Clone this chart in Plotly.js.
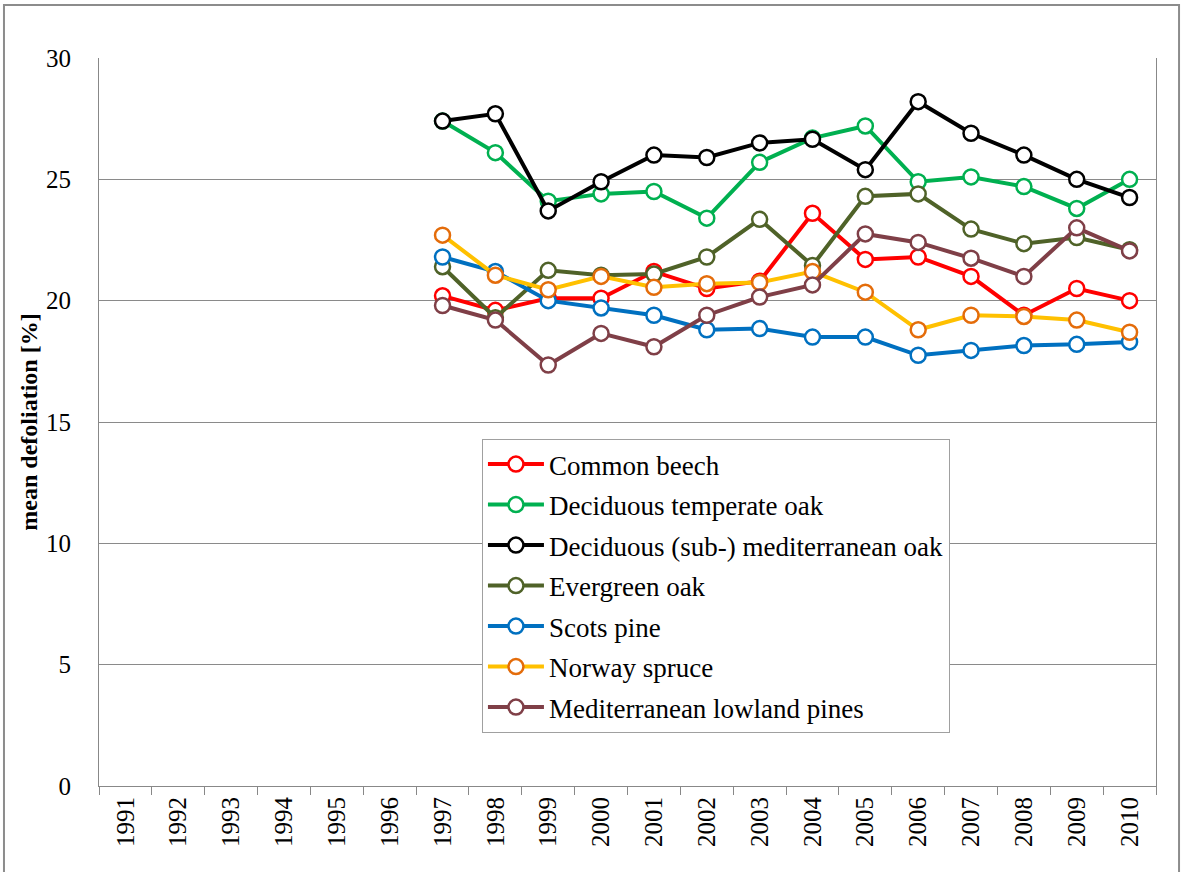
<!DOCTYPE html>
<html>
<head>
<meta charset="utf-8">
<script src="https://cdn.plot.ly/plotly-3.0.1.min.js"></script>
<style>
  html, body { margin: 0; padding: 0; background: #fff; }
  #chart { width: 1183px; height: 872px; }
</style>
</head>
<body>
<div id="chart"></div>
<script>
// years on the category axis (no data before 1997)
const years = ['1991','1992','1993','1994','1995','1996','1997','1998','1999','2000',
               '2001','2002','2003','2004','2005','2006','2007','2008','2009','2010'];
const pad = [null, null, null, null, null, null];

// mean defoliation [%], 1997-2010
const commonBeech   = [20.2, 19.6, 20.1, 20.1, 21.2, 20.5, 20.8, 23.6, 21.7, 21.8, 21.0, 19.4, 20.5, 20.0];
const decTempOak    = [27.4, 26.1, 24.1, 24.4, 24.5, 23.4, 25.7, 26.7, 27.2, 24.9, 25.1, 24.7, 23.8, 25.0];
const decSubMedOak  = [27.4, 27.7, 23.7, 24.9, 26.0, 25.9, 26.5, 26.65, 25.4, 28.2, 26.9, 26.0, 25.0, 24.25];
const evergreenOak  = [21.4, 19.3, 21.25, 21.05, 21.1, 21.8, 23.35, 21.45, 24.3, 24.4, 22.95, 22.35, 22.6, 22.1];
const scotsPine     = [21.8, 21.2, 20.0, 19.7, 19.4, 18.8, 18.85, 18.5, 18.5, 17.75, 17.95, 18.15, 18.2, 18.3];
const norwaySpruce  = [22.7, 21.05, 20.45, 21.0, 20.55, 20.7, 20.75, 21.2, 20.35, 18.8, 19.4, 19.35, 19.2, 18.7];
const medLowPines   = [19.8, 19.2, 17.35, 18.65, 18.1, 19.4, 20.15, 20.65, 22.75, 22.4, 21.75, 21.0, 23.0, 22.05];

const seriesNames = ['Common beech', 'Deciduous temperate oak', 'Deciduous (sub-) mediterranean oak',
                     'Evergreen oak', 'Scots pine', 'Norway spruce', 'Mediterranean lowland pines'];
const seriesData  = [commonBeech, decTempOak, decSubMedOak, evergreenOak, scotsPine, norwaySpruce, medLowPines];
const lineColors  = ['#ff0000', '#00b050', '#000000', '#4f6228', '#0070c0', '#ffc000', '#7f3f47'];
const markColors  = ['#ff0000', '#00b050', '#000000', '#4f6228', '#0070c0', '#e46c0a', '#7f3f47'];

const FONT = 'Liberation Serif, Times New Roman, serif';

const traces = seriesNames.map((name, i) => ({
  x: years,
  y: pad.concat(seriesData[i]),
  name: name,
  legendgroup: 'g' + i,
  type: 'scatter',
  mode: 'lines+markers',
  line: { color: lineColors[i], width: 4 },
  marker: { symbol: 'circle', size: 15, color: '#ffffff', line: { color: markColors[i], width: 2.5 } },
  cliponaxis: false
}));

const layout = {
  width: 1183, height: 872,
  margin: { l: 99, r: 27, t: 58, b: 86 },
  paper_bgcolor: '#ffffff', plot_bgcolor: '#ffffff',
  font: { family: FONT, color: '#000000', size: 24 },
  showlegend: true,
  legend: {
    x: 0.3623, y: 0.4766, xanchor: 'left', yanchor: 'top',
    bgcolor: '#ffffff', bordercolor: '#a0a0a0', borderwidth: 1,
    font: { family: FONT, size: 27, color: '#000000' },
    traceorder: 'grouped', tracegroupgap: 2.4, itemwidth: 56
  },
  xaxis: {
    type: 'category', range: [-0.5, 19.5], autorange: false,
    tickson: 'boundaries', ticks: 'outside', ticklen: 8, tickcolor: '#888888',
    tickangle: -90,
    showgrid: false, showline: true, linecolor: '#888888', linewidth: 1,
    tickfont: { family: FONT, size: 25 }, zeroline: false
  },
  yaxis: {
    range: [0, 30], autorange: false, dtick: 5,
    showgrid: true, gridcolor: '#8a8a8a', gridwidth: 1,
    showline: true, linecolor: '#888888', linewidth: 1, mirror: true,
    ticks: '', ticklabelstandoff: 22, zeroline: false,
    tickfont: { family: FONT, size: 25 },
    title: { text: '<b>mean defoliation [%]</b>', font: { family: FONT, size: 24 }, standoff: 1 }
  },
  shapes: [{
    type: 'rect', xref: 'paper', yref: 'paper',
    x0: -0.0899, x1: 1.0218, y0: -0.2, y1: 1.0728,
    line: { color: '#8c8c8c', width: 2 }, layer: 'below'
  }]
};

Plotly.newPlot('chart', traces, layout, { displayModeBar: false, staticPlot: true });
</script>
</body>
</html>
